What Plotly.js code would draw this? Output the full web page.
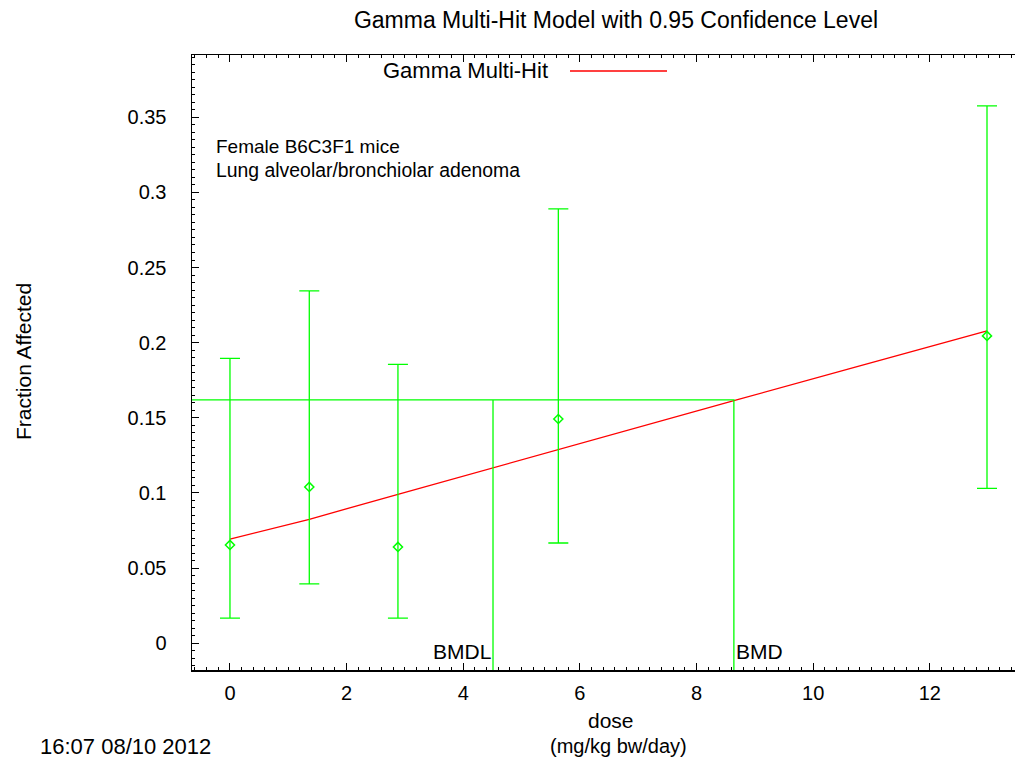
<!DOCTYPE html>
<html>
<head>
<meta charset="utf-8">
<script src="https://cdn.plot.ly/plotly-3.0.1.min.js"></script>
<style>html,body{margin:0;padding:0;background:#fff;}#chart{width:1015px;height:759px;}</style>
</head>
<body>
<div id="chart"></div>
<script>
// Observed data
const doses = [0, 1.36, 2.88, 5.63, 12.98];
const fracAffected = [0.0654, 0.104, 0.0641, 0.1492, 0.2045];
const ciLower = [0.0167, 0.0395, 0.0167, 0.0667, 0.1031];
const ciUpper = [0.1895, 0.2344, 0.1856, 0.289, 0.3575];

// Fitted Gamma Multi-Hit curve
const fitDose = [0, 1.36, 2.88, 4.1, 4.51, 5.63, 8.64, 10.69, 12.98];
const fitFrac = [0.0692, 0.0825, 0.0991, 0.1124, 0.1164, 0.1291, 0.1614, 0.1834, 0.2078];

// Benchmark values
const bmd = 8.64;
const bmdl = 4.51;
const bmrLevel = 0.1619;

const xRange = [-0.651, 13.46];
const yRange = [-0.0178, 0.3914];
const xTicks = [0, 2, 4, 6, 8, 10, 12];
const yTicks = [0, 0.05, 0.1, 0.15, 0.2, 0.25, 0.3, 0.35];

const GREEN = '#00ff00';
const RED = '#ff0000';
const FONT = 'Liberation Sans, Arial, sans-serif';

const L = 192, R = 1015, T = 55, B = 670;
const fx = p => (p - L) / (R - L);
const fy = p => (B - p) / (B - T);

const traces = [
  {
    x: fitDose, y: fitFrac, mode: 'lines', type: 'scatter',
    line: {color: RED, width: 1.3}, hoverinfo: 'skip', cliponaxis: true
  },
  {
    x: [xRange[0], bmd, bmd], y: [bmrLevel, bmrLevel, yRange[0]],
    mode: 'lines', type: 'scatter', line: {color: GREEN, width: 1.3}, hoverinfo: 'skip'
  },
  {
    x: [bmdl, bmdl], y: [bmrLevel, yRange[0]],
    mode: 'lines', type: 'scatter', line: {color: GREEN, width: 1.3}, hoverinfo: 'skip'
  },
  {
    x: doses, y: fracAffected, mode: 'markers', type: 'scatter',
    marker: {symbol: 'diamond-open', size: 7, color: GREEN, line: {color: GREEN, width: 1.5}},
    error_y: {
      type: 'data', symmetric: false,
      array: ciUpper.map((u, i) => u - fracAffected[i]),
      arrayminus: fracAffected.map((v, i) => v - ciLower[i]),
      color: GREEN, thickness: 1.3, width: 10
    }
  }
];

const layout = {
  width: 1015, height: 759,
  margin: {l: L, r: 1015 - R, t: T, b: 759 - B, pad: 0},
  paper_bgcolor: '#fff', plot_bgcolor: '#fff',
  showlegend: false,
  font: {family: FONT, color: '#000', size: 20},
  title: {
    text: 'Gamma Multi-Hit Model with 0.95 Confidence Level',
    font: {family: FONT, size: 23, color: '#000'},
    xref: 'container', yref: 'container', x: 616 / 1015, y: 1 - 20 / 759,
    xanchor: 'center', yanchor: 'middle'
  },
  xaxis: {
    range: xRange, tickvals: xTicks, ticktext: xTicks.map(String),
    showgrid: false, zeroline: false, showline: true, linecolor: '#000', linewidth: 1.5,
    mirror: 'allticks', ticks: 'inside', ticklen: 7, tickcolor: '#000', tickwidth: 1,
    minor: {dtick: 0.2, ticks: 'inside', ticklen: 3, tickcolor: '#000', tickwidth: 1},
    tickfont: {family: FONT, size: 20, color: '#000'}, ticklabelstandoff: 4
  },
  yaxis: {
    range: yRange, tickvals: yTicks, ticktext: yTicks.map(String),
    showgrid: false, zeroline: false, showline: true, linecolor: '#000', linewidth: 1.5,
    ticks: 'inside', ticklen: 7, tickcolor: '#000', tickwidth: 1,
    minor: {dtick: 0.005, ticks: 'inside', ticklen: 3, tickcolor: '#000', tickwidth: 1},
    tickfont: {family: FONT, size: 20, color: '#000'}, ticklabelstandoff: 20
  },
  shapes: [
    {type: 'line', xref: 'paper', yref: 'paper', x0: fx(570), x1: fx(667), y0: fy(71), y1: fy(71),
     line: {color: RED, width: 1.3}}
  ],
  annotations: [
    {text: 'Gamma Multi-Hit', xref: 'paper', yref: 'paper', x: fx(381), y: fy(70),
     xanchor: 'left', yanchor: 'middle', showarrow: false, font: {size: 22}},
    {text: 'Female B6C3F1 mice', xref: 'paper', yref: 'paper', x: fx(214), y: fy(147),
     xanchor: 'left', yanchor: 'middle', showarrow: false, font: {size: 19}},
    {text: 'Lung alveolar/bronchiolar adenoma', xref: 'paper', yref: 'paper', x: fx(214), y: fy(170),
     xanchor: 'left', yanchor: 'middle', showarrow: false, font: {size: 19.4}},
    {text: 'BMDL', xref: 'x', yref: 'paper', x: bmdl, y: fy(651),
     xanchor: 'right', yanchor: 'middle', showarrow: false, font: {size: 21}},
    {text: 'BMD', xref: 'x', yref: 'paper', x: bmd, y: fy(651),
     xanchor: 'left', yanchor: 'middle', showarrow: false, font: {size: 21}},
    {text: 'dose', xref: 'paper', yref: 'paper', x: fx(611), y: fy(720),
     xanchor: 'center', yanchor: 'middle', showarrow: false, font: {size: 21}},
    {text: '(mg/kg bw/day)', xref: 'paper', yref: 'paper', x: fx(618), y: fy(746),
     xanchor: 'center', yanchor: 'middle', showarrow: false, font: {size: 20}},
    {text: '16:07 08/10 2012', xref: 'paper', yref: 'paper', x: fx(38), y: fy(746),
     xanchor: 'left', yanchor: 'middle', showarrow: false, font: {size: 22}},
    {text: 'Fraction Affected', xref: 'paper', yref: 'paper', x: fx(23), y: fy(362),
     xanchor: 'center', yanchor: 'middle', textangle: -90, showarrow: false, font: {size: 21}}
  ]
};

Plotly.newPlot('chart', traces, layout, {staticPlot: true, displayModeBar: false});
</script>
</body>
</html>
